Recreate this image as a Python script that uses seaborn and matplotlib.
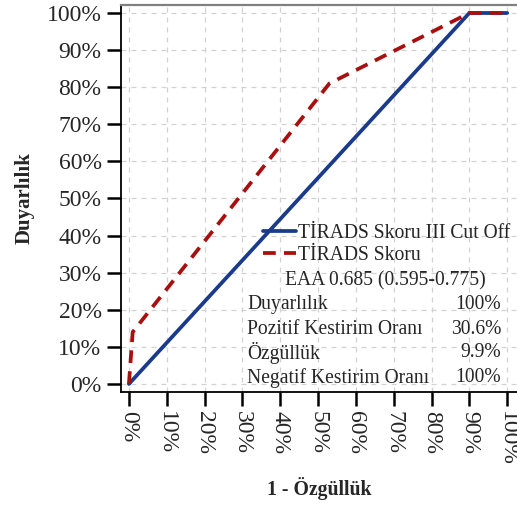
import matplotlib
matplotlib.use("Agg")
import matplotlib.pyplot as plt
import seaborn as sns
import pandas as pd
from matplotlib.ticker import PercentFormatter
from matplotlib.lines import Line2D

sns.set_theme(style="white")
plt.rcParams['font.family'] = ['Liberation Serif', 'DejaVu Serif']

# Data
cut_fpr = [0.0, 0.90, 1.0]
cut_tpr = [0.0, 1.00, 1.0]
score_fpr = [0.0, 0.01, 0.53, 0.90, 1.0]
score_tpr = [0.0, 0.14, 0.81, 1.00, 1.0]
series_names = ["TİRADS Skoru III Cut Off", "TİRADS Skoru"]
auc_text = "EAA 0.685 (0.595-0.775)"
stat_labels = ["Duyarlılık", "Pozitif Kestirim Oranı", "Özgüllük", "Negatif Kestirim Oranı"]
stat_values = ["100%", "30.6%", "9.9%", "100%"]
tick_vals = [i / 10 for i in range(11)]

df = pd.concat([
    pd.DataFrame({"fpr": cut_fpr, "tpr": cut_tpr, "series": series_names[0]}),
    pd.DataFrame({"fpr": score_fpr, "tpr": score_tpr, "series": series_names[1]}),
])

fig = plt.figure(figsize=(5.17, 5.09), dpi=100)
ax = fig.add_axes([0.234, 0.2299, 0.766, 0.7603])

DASH = (3.4, 2.2)
LW = 2.7
palette = {series_names[0]: "#1a3a8c", series_names[1]: "#a80f0f"}
sns.lineplot(data=df, x="fpr", y="tpr", hue="series", style="series",
             palette=palette, dashes={series_names[0]: "", series_names[1]: DASH},
             linewidth=LW, sort=False, estimator=None, ax=ax, legend=False)

ax.set_xlim(-0.021, 1.026)
ax.set_ylim(-0.0216, 1.0216)
ax.set_xticks(tick_vals)
ax.set_yticks(tick_vals)
ax.xaxis.set_major_formatter(PercentFormatter(1.0, decimals=0))
ax.yaxis.set_major_formatter(PercentFormatter(1.0, decimals=0))
ax.tick_params(axis='both', which='major', length=10, width=1.8, color='black',
               labelsize=17, pad=4, direction='out', bottom=True, left=True)
for lbl in ax.get_xticklabels():
    lbl.set_rotation(-90)
    lbl.set_va('top')
    lbl.set_ha('center')

ax.grid(True, color='#d2d2d2', linestyle=(0, (4, 4)), linewidth=0.9)

for s in ['left', 'bottom']:
    ax.spines[s].set_color('black')
    ax.spines[s].set_linewidth(1.3)
ax.spines['top'].set_color('#808080')
ax.spines['top'].set_linewidth(1.6)
ax.spines['right'].set_visible(False)

ax.set_xlabel("1 - Özgüllük", fontsize=14.2, fontweight='bold', labelpad=8)
ax.set_ylabel("Duyarlılık", fontsize=15, fontweight='bold', labelpad=9)

FS = 14.1
handles = [Line2D([], [], color=palette[series_names[0]], lw=LW),
           Line2D([], [], color=palette[series_names[1]], lw=LW, dashes=DASH)]

def fx(px):
    return (px - 121) / 396
def fy(py):
    return 1 - (py - 5) / 387

leg = ax.legend(handles, series_names, loc='upper left',
                bbox_to_anchor=(fx(263), fy(224)),
                frameon=False, fontsize=FS, handlelength=1.7, handletextpad=0.1,
                labelspacing=0.13, borderaxespad=0, borderpad=0.0)

ax.text(fx(385), fy(281), auc_text, transform=ax.transAxes, fontsize=FS,
        ha='center', va='center')
row_y = [305, 330, 353, 378]
for lab, val, y in zip(stat_labels, stat_values, row_y):
    ax.text(fx(247), fy(y), lab, transform=ax.transAxes, fontsize=FS, ha='left', va='center')
    ax.text(fx(501), fy(y), val, transform=ax.transAxes, fontsize=FS, ha='right', va='center')

fig.savefig("out.png", dpi=100)
